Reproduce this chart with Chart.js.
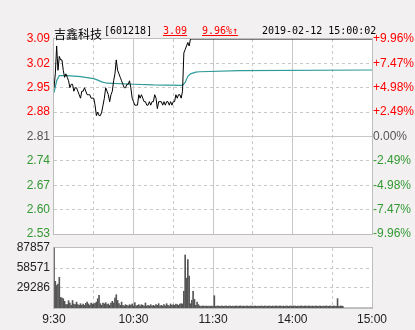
<!DOCTYPE html>
<html>
<head>
<meta charset="utf-8">
<script src="https://cdn.jsdelivr.net/npm/chart.js@4.4.0/dist/chart.umd.min.js"></script>
<style>
  body { margin: 0; background: #f2f0f0; }
  #wrap { position: relative; width: 415px; height: 330px; overflow: hidden; }
  canvas { position: absolute; left: 0; top: 0; }
  .hd { position: absolute; top: 25px; line-height: 12px; white-space: nowrap; }
  .mono { font: 10px "DejaVu Sans Mono", monospace; }
  .red { color: #f00; text-decoration: underline; }
</style>
</head>
<body>
<div id="wrap">
  <canvas id="chart" width="415" height="330"></canvas>
  <div class="hd" style="left:54px;font:12px 'Noto Sans CJK SC',sans-serif;">吉鑫科技</div>
  <div class="hd mono" style="left:104px;">[601218]</div>
  <div class="hd mono red" style="left:163px;">3.09</div>
  <div class="hd mono red" style="left:202px;">9.96%↑</div>
  <div class="hd mono" style="left:262px;">2019-02-12 15:00:02</div>
</div>
<script>
const prevClose = 2.81;

// minute index since 9:30 (lunch break removed) and last price
const priceMinutes = [0, 1, 2, 3, 4, 5, 6, 7, 8, 9, 10, 11, 12, 13, 14, 15, 16, 17, 18, 19,
  20, 21, 22, 23, 24, 25, 26, 27, 28, 29, 30, 31, 32, 33, 34, 35, 36, 37, 38, 39,
  40, 41, 42, 43, 44, 45, 46, 47, 48, 49, 50, 51, 52, 53, 54, 55, 56, 57, 58, 59,
  60, 61, 62, 63, 64, 65, 66, 67, 68, 69, 70, 71, 72, 73, 74, 75, 76, 77, 78, 79,
  80, 81, 82, 83, 84, 85, 86, 87, 88, 89, 90, 91, 92, 93, 94, 95, 96, 97, 98, 99,
  100, 101, 102, 103, 240];
const prices = [2.95, 2.99, 3.07, 3.00, 3.04, 3.03, 3.03, 3.00, 2.98, 2.99, 2.98, 2.97, 2.95, 2.96, 2.96, 2.94, 2.95, 2.95, 2.94, 2.93,
  2.92, 2.94, 2.94, 2.95, 2.94, 2.93, 2.93, 2.93, 2.92, 2.92, 2.92, 2.90, 2.87, 2.88, 2.87, 2.87, 2.88, 2.90, 2.92, 2.95,
  2.94, 2.93, 2.91, 2.93, 2.94, 2.97, 2.99, 3.03, 3.00, 2.99, 2.98, 2.97, 2.96, 2.95, 2.95, 2.96, 2.96, 2.97, 2.95, 2.92,
  2.91, 2.90, 2.90, 2.90, 2.93, 2.92, 2.93, 2.92, 2.91, 2.91, 2.90, 2.90, 2.91, 2.90, 2.91, 2.91, 2.93, 2.92, 2.89, 2.91,
  2.91, 2.91, 2.90, 2.91, 2.90, 2.91, 2.91, 2.90, 2.91, 2.90, 2.91, 2.91, 2.93, 2.92, 2.93, 2.93, 2.92, 2.94, 3.05, 3.06,
  3.07, 3.08, 3.07, 3.09, 3.09];

const avgMinutes = [0, 2, 4, 10, 20, 30, 33, 36, 40, 60, 75, 97, 99, 101, 103, 107, 110, 140, 240];
const avgPrices = [2.936, 2.970, 2.985, 2.985, 2.982, 2.976, 2.972, 2.967, 2.963, 2.960, 2.958, 2.957, 2.965, 2.983, 2.990, 2.995, 2.996, 2.999, 3.001];

// volume per minute, 9:30 .. 15:00
const volumes = [
  87857, 39000, 33000, 35000, 45000, 15600, 14600, 13600, 9800, 5000,
  5200, 10700, 7300, 4000, 11000, 5900, 4900, 8700, 4900, 3900,
  6300, 3900, 5900, 3900, 6800, 8700, 5900, 3900, 7300, 5900,
  5900, 6800, 8700, 13600, 18400, 6300, 3900, 7300, 5900, 7800,
  4900, 5900, 3900, 7300, 9800, 7300, 14500, 19400, 11000, 6300,
  3900, 8700, 3900, 2900, 4900, 3900, 2900, 4900, 3900, 5900,
  2900, 7800, 2900, 3900, 4900, 2900, 4900, 3900, 2900, 7300,
  2900, 3900, 2900, 4900, 2900, 3900, 2900, 4900, 3900, 6300,
  2900, 3900, 2900, 4900, 2900, 6300, 3900, 2900, 5900, 3900,
  4900, 3900, 5900, 4900, 3900, 5900, 6300, 5900, 24300, 77700,
  43700, 70900, 46600, 6300, 11200, 24300, 12600, 3900, 8700, 4900,
  2900, 2400, 2900, 2900, 2400, 2900, 2400, 2900, 2400, 2900,
  2400, 18000, 2400, 2900, 2900, 2400, 2900, 2900, 2400, 2900,
  2900, 2400, 2900, 2900, 2400, 2900, 2400, 2900, 2900, 2400,
  2900, 2900, 2400, 2900, 2400, 2900, 2900, 2400, 2900, 2900,
  2400, 2900, 2900, 2400, 2900, 2400, 2900, 2900, 2400, 2900,
  2900, 2400, 2900, 2900, 2400, 2900, 2400, 2900, 2900, 2400,
  2900, 2900, 2400, 2900, 2400, 2900, 2900, 2400, 2900, 2900,
  2400, 2900, 2900, 2400, 2900, 2400, 2900, 2900, 2400, 2900,
  2900, 2400, 2900, 2900, 2400, 2900, 2400, 2900, 2900, 2400,
  2900, 2900, 2400, 2900, 2400, 2900, 2900, 2400, 2900, 2900,
  2400, 2900, 2900, 2400, 13700, 2400, 2900, 2900, 2400, 0,
  0, 0, 0, 0, 0, 0, 0, 0, 0, 0,
  0, 0, 0, 0, 0, 0, 0, 0, 0, 0,
  0
];

const priceTicks = [2.53, 2.60, 2.67, 2.74, 2.81, 2.88, 2.95, 3.02, 3.09];
const pctLabels = ['-9.96%', '-7.47%', '-4.98%', '-2.49%', '0.00%', '+2.49%', '+4.98%', '+7.47%', '+9.96%'];
const volTicks = [29286, 58571, 87857];
const gridMinutes = [30, 60, 90, 120, 150, 180, 210];
const solidMinutes = [60, 120, 180];
const timeTicks = [0, 60, 120, 180, 240];
const timeLabels = ['9:30', '10:30', '11:30', '14:00', '15:00'];

// panel layout in canvas pixels: price panel 39..234, volume panel 248..308
const PLOT_TOP = 39;
const PRICE_BOTTOM = 234;
const VOL_TOP = 248;
const PLOT_BOTTOM = 308;
const priceMax = priceTicks[priceTicks.length - 1];
const priceMin = priceMax - (priceMax - priceTicks[0]) * (PLOT_BOTTOM - PLOT_TOP) / (PRICE_BOTTOM - PLOT_TOP);
const volTop = volTicks[volTicks.length - 1];
const volMax = volTop * (PLOT_BOTTOM - PLOT_TOP) / (PLOT_BOTTOM - VOL_TOP);

// volume tick marks expressed on the price axis (both axes span the same area)
const volTickOnPrice = volTicks.map(v => priceMin + v / volMax * (priceMax - priceMin));

const RED = '#f00';
const GREEN = '#339933';
const GREY = '#555';
const GRID = '#c8c8c8';

function priceColor(v) {
  if (Math.abs(v - prevClose) < 1e-6) return GREY;
  return v > prevClose ? RED : GREEN;
}
const leftTickColors = priceTicks.map(priceColor).concat(volTicks.map(() => '#222'));
const rightTickColors = priceTicks.map(priceColor);

function dashH(ctx, x1, x2, y) {
  for (let x = x1; x < x2; x += 6) ctx.fillRect(x, y, Math.min(3, x2 - x), 1);
}
function dashV(ctx, x, y1, y2) {
  for (let y = y1; y < y2; y += 6) ctx.fillRect(x, y, 1, Math.min(3, y2 - y));
}

// white panels, grid lines and grey frames, all painted before the data
const panels = {
  id: 'panels',
  beforeDraw(chart) {
    const a = chart.chartArea;
    const ctx = chart.ctx;
    const xs = chart.scales.x;
    const ys = chart.scales.y;
    const yv = chart.scales.yVol;
    const left = Math.round(a.left);
    const right = Math.round(a.right);
    const pTop = Math.round(a.top);
    const pBottom = Math.round(ys.getPixelForValue(priceTicks[0]));
    const vTop = Math.round(yv.getPixelForValue(volTop));
    const vBottom = Math.round(a.bottom);
    const boxes = [[pTop, pBottom], [vTop, vBottom]];
    ctx.save();
    ctx.fillStyle = '#fff';
    boxes.forEach(([t, b]) => ctx.fillRect(left, t, right - left, b - t));
    ctx.fillStyle = GRID;
    boxes.forEach(([t, b]) => {
      gridMinutes.forEach(m => {
        const px = Math.floor(xs.getPixelForValue(m));
        if (solidMinutes.includes(m)) ctx.fillRect(px, t, 1, b - t);
        else dashV(ctx, px, t, b);
      });
    });
    priceTicks.slice(1, -1).forEach(v => {
      const py = Math.floor(ys.getPixelForValue(v));
      if (Math.abs(v - prevClose) < 1e-6) ctx.fillRect(left, py, right - left, 1);
      else dashH(ctx, left, right, py);
    });
    volTicks.slice(0, -1).forEach(v => dashH(ctx, left, right, Math.floor(yv.getPixelForValue(v))));
    ctx.fillStyle = '#bdbdbd';
    boxes.forEach(([t, b]) => {
      ctx.fillRect(left - 1, t - 1, right - left + 2, 1);
      ctx.fillRect(left - 1, b, right - left + 2, 1);
      ctx.fillRect(left - 1, t - 1, 1, b - t + 2);
      ctx.fillRect(right, t - 1, 1, b - t + 2);
    });
    ctx.restore();
  }
};

new Chart(document.getElementById('chart'), {
  type: 'line',
  data: {
    datasets: [
      {
        data: priceMinutes.map((m, i) => ({ x: m, y: prices[i] })),
        borderColor: '#000',
        borderWidth: 1,
        pointRadius: 0,
        tension: 0,
        yAxisID: 'y'
      },
      {
        data: avgMinutes.map((m, i) => ({ x: m, y: avgPrices[i] })),
        borderColor: '#2e9a9a',
        borderWidth: 1.2,
        pointRadius: 0,
        tension: 0,
        yAxisID: 'y'
      },
      {
        type: 'bar',
        data: volumes.map((v, i) => ({ x: i, y: v })),
        backgroundColor: '#555',
        barThickness: 1,
        yAxisID: 'yVol'
      }
    ]
  },
  options: {
    responsive: false,
    animation: false,
    events: [],
    layout: { padding: { top: PLOT_TOP, bottom: 0, left: 0, right: 0 } },
    plugins: { legend: { display: false }, tooltip: { enabled: false } },
    scales: {
      x: {
        type: 'linear',
        min: 0,
        max: 240,
        offset: false,
        afterBuildTicks: s => { s.ticks = timeTicks.map(v => ({ value: v })); },
        afterFit: s => { s.height = 330 - PLOT_BOTTOM; },
        ticks: { autoSkip: false, maxRotation: 0, padding: 4, color: '#222', callback: (v, i) => timeLabels[i] },
        grid: { display: false, drawTicks: false, offset: false },
        border: { display: false }
      },
      y: {
        position: 'left',
        min: priceMin,
        max: priceMax,
        afterBuildTicks: s => { s.ticks = priceTicks.concat(volTickOnPrice).map(v => ({ value: v })); },
        afterFit: s => { s.width = 54; },
        ticks: {
          autoSkip: false,
          padding: 4,
          color: leftTickColors,
          callback: (v, i) => (i < priceTicks.length ? v.toFixed(2) : String(volTicks[i - priceTicks.length]))
        },
        grid: { display: false, drawTicks: false },
        border: { display: false }
      },
      yVol: {
        display: false,
        min: 0,
        max: volMax
      },
      yr: {
        position: 'right',
        min: priceMin,
        max: priceMax,
        afterBuildTicks: s => { s.ticks = priceTicks.map(v => ({ value: v })); },
        afterFit: s => { s.width = 43; },
        ticks: { autoSkip: false, padding: 1, color: rightTickColors, callback: (v, i) => pctLabels[i] },
        grid: { display: false, drawTicks: false },
        border: { display: false }
      }
    }
  },
  plugins: [panels]
});
</script>
</body>
</html>
